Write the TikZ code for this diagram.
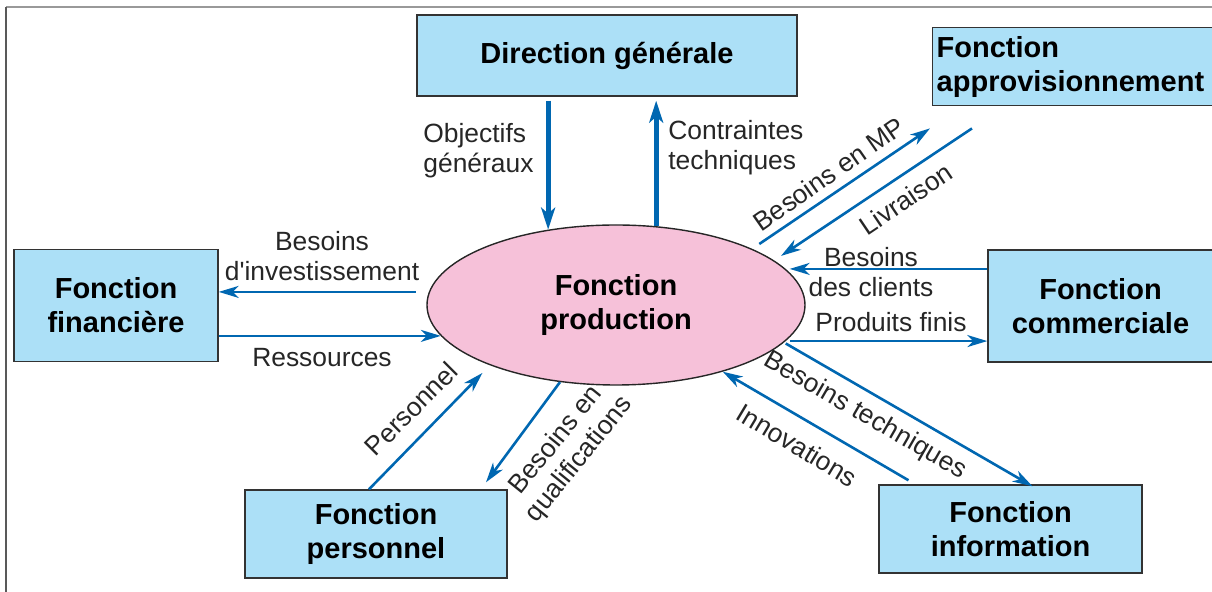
\documentclass[tikz,border=0pt]{standalone}
\usepackage{fontspec}
\setmainfont{Liberation Sans}
\usetikzlibrary{positioning, arrows.meta, shapes.geometric, calc}

\definecolor{boxblue}{RGB}{172,224,247}
\definecolor{prodpink}{RGB}{246,193,217}
\definecolor{flowblue}{RGB}{0,103,177}
\newcommand\lblsize{\fontsize{13.2}{15}\selectfont}
\newcommand\boxsize{\fontsize{14.5}{17}\selectfont}

\begin{document}
\begin{tikzpicture}[x=0.5pt, y=-0.5pt,
    fct/.style={draw=black!80, fill=boxblue, line width=0.7pt, align=center, inner sep=0pt, font=\boxsize\bfseries},
    arr/.style={-{Stealth[length=10pt, width=6pt, inset=3pt]}, color=flowblue, line width=1.3pt},
    bigarr/.style={-{Stealth[length=11pt, width=7pt, inset=3pt]}, color=flowblue, line width=2.4pt},
    lbl/.style={font=\lblsize, align=center, inner sep=0pt, text=black!85}]

    \useasboundingbox (0,0) rectangle (1212,592);

    % Frame
    \draw[black!40, line width=1pt] (6,7) -- (1212,7);
    \draw[black!65, line width=1pt] (6,7) -- (6,592);

    % Production
    \node[ellipse, draw=black!85, fill=prodpink, line width=0.7pt, minimum width=189pt, minimum height=80pt,
          inner sep=0pt, font=\boxsize\bfseries, align=center] (prod) at (616,305) {Fonction\\production};

    % Other functions
    \node[fct, minimum width=190pt, minimum height=40.5pt] (dg) at (607,55.5) {Direction générale};
    \node[fct, anchor=north west, align=left, text width=150pt, inner xsep=2pt, minimum height=39pt] (appro) at (932,27) {Fonction\\approvisionnement};
    \node[fct, minimum width=102pt, minimum height=56pt] (fin) at (116,305.5) {Fonction\\financière};
    \node[fct, minimum width=112.5pt, minimum height=56pt] (comm) at (1100.5,306) {Fonction\\commerciale};
    \node[fct, minimum width=131pt, minimum height=44pt] (pers) at (376,534) {Fonction\\personnel};
    \node[fct, minimum width=131.5pt, minimum height=44pt] (info) at (1010.5,529) {Fonction\\information};

    % Flows
    \draw[bigarr] ($(dg.south -| prod.132)+(0,4)$) -- (prod.132);
    \draw[bigarr] (prod.63) -- ($(dg.south -| prod.63)+(0,4)$);
    \draw[arr] ($(prod.176)+(-13,0)$) -- (fin.east |- prod.176);
    \draw[arr] (fin.east |- prod.190) -- (prod.190);
    \draw[arr] ($(prod.23)+(9,-4)$) -- ($(appro.south west)+(-2,22)$);
    \draw[arr] ($(appro.south west)+(40,22)$) -- ($(prod.17)+(11,-2)$);
    \draw[arr] (comm.west |- prod.12) -- ($(prod.12)+(4,0)$);
    \draw[arr] ($(prod.-12)+(4,0)$) -- (comm.west |- prod.-12);
    \draw[arr] ($(prod.-13)+(3,0)$) -- ($(info.north)+(22,2)$);
    \draw[arr] ($(info.north)+(-102,-4)$) -- (prod.-32);
    \draw[arr] ($(pers.north)+(-7,0)$) -- ($(prod.207)+(-12,6)$);
    \draw[arr] (prod.234) -- ($(pers.north)+(110,-7)$);

    % Labels
    \node[lbl, align=left, anchor=west] (objlbl) at (423,151) {Objectifs\\généraux};
    \node[lbl, align=left, anchor=west] (ctrlbl) at (668,148) {Contraintes\\techniques};
    \node[lbl] (invlbl) at (322,256) {Besoins\\d\textquotesingle investissement};
    \node[lbl] (reslbl) at (322,358) {Ressources};
    \node[lbl, rotate=34.8] (mplbl) at (829,174) {Besoins en MP};
    \node[lbl, rotate=34] (livlbl) at (906,199) {Livraison};
    \node[lbl] (clilbl) at (871,272) {Besoins\\des clients};
    \node[lbl] (pflbl) at (891,322) {Produits finis};
    \node[lbl, rotate=-30] (teclbl) at (865,416) {Besoins techniques};
    \node[lbl, rotate=-31] (innlbl) at (797,445) {Innovations};
    \node[lbl, rotate=45] (perlbl) at (411,409) {Personnel};
    \node[lbl, rotate=51] (quallbl) at (568,450) {Besoins en\\qualifications};

\end{tikzpicture}
\end{document}
